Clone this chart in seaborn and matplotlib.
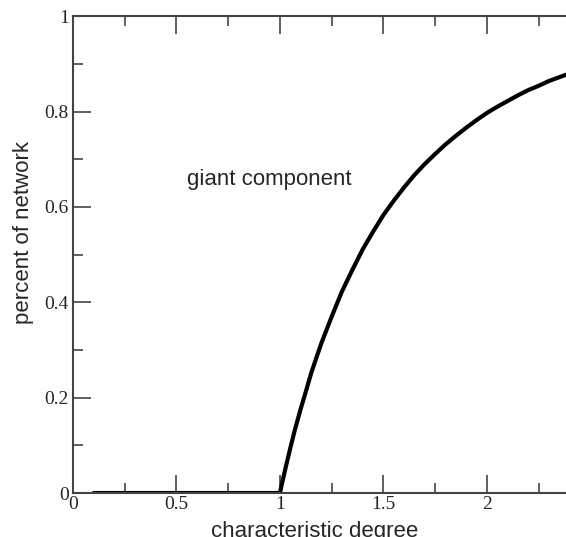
import matplotlib
matplotlib.use("Agg")
import matplotlib.pyplot as plt
import seaborn as sns
import pandas as pd
from matplotlib.ticker import MultipleLocator

# values
flat_x = [0.1, 0.5, 1.0]
flat_y = [0.0, 0.0, 0.0]
curve_x = [1.0, 1.01, 1.02, 1.03, 1.05, 1.07, 1.1, 1.12, 1.15, 1.17, 1.2, 1.25, 1.3, 1.35, 1.4, 1.45,
           1.5, 1.55, 1.6, 1.65, 1.7, 1.75, 1.8, 1.85, 1.9, 1.95, 2.0, 2.05, 2.1, 2.15, 2.2, 2.25,
           2.3, 2.35, 2.4, 2.45, 2.5]
curve_y = [0.0, 0.020, 0.039, 0.058, 0.094, 0.129, 0.176, 0.205, 0.250, 0.276, 0.314, 0.370, 0.423,
           0.468, 0.511, 0.548, 0.583, 0.613, 0.641, 0.667, 0.690, 0.711, 0.731, 0.749, 0.766, 0.782,
           0.797, 0.810, 0.822, 0.834, 0.845, 0.854, 0.864, 0.872, 0.880, 0.886, 0.893]

df = pd.DataFrame({"x": flat_x + curve_x[1:], "y": flat_y + curve_y[1:]})

sns.set_style("white")
fig = plt.figure(figsize=(5.66, 5.37), dpi=100)
ax = fig.add_axes([0.129, 0.0819, 0.914, 0.888])

sns.lineplot(data=df, x="x", y="y", ax=ax, color="black", linewidth=3.0, sort=False)
for ln in ax.get_lines():
    ln.set_solid_joinstyle("round")

ax.set_xlim(0, 2.5)
ax.set_ylim(0, 1)
ax.xaxis.set_minor_locator(MultipleLocator(0.25))
ax.yaxis.set_minor_locator(MultipleLocator(0.1))
ax.set_xticks([0, 0.5, 1, 1.5, 2])
ax.set_xticklabels(["0", "0.5", "1", "1.5", "2"])
ax.set_yticks([0, 0.2, 0.4, 0.6, 0.8, 1.0])
ax.set_yticklabels(["0", "0.2", "0.4", "0.6", "0.8", "1"])

ax.tick_params(which="both", direction="in", top=True, right=True, bottom=True, left=True,
               color="#444444", width=1.2)
ax.tick_params(which="major", length=13, labelsize=14, pad=3)
ax.tick_params(which="minor", length=7)
for lab in ax.get_xticklabels() + ax.get_yticklabels():
    lab.set_family("Liberation Serif")
ax.tick_params(axis="x", which="major", pad=2)

for s in ax.spines.values():
    s.set_color("#444444")
    s.set_linewidth(1.5)

ax.set_xlabel("characteristic degree", family="Liberation Sans", fontsize=16)
ax.set_ylabel("percent of network", family="Liberation Sans", fontsize=16)
ax.xaxis.set_label_coords(0.468, -0.058)
ax.xaxis.label.set_va("top")
ax.yaxis.set_label_coords(-0.0957, 0.547)
ax.yaxis.label.set_va("center")

ax.text(0.55, 0.658, "giant component", family="Liberation Sans", fontsize=16,
        ha="left", va="center")

fig.savefig("out.png", dpi=100)
